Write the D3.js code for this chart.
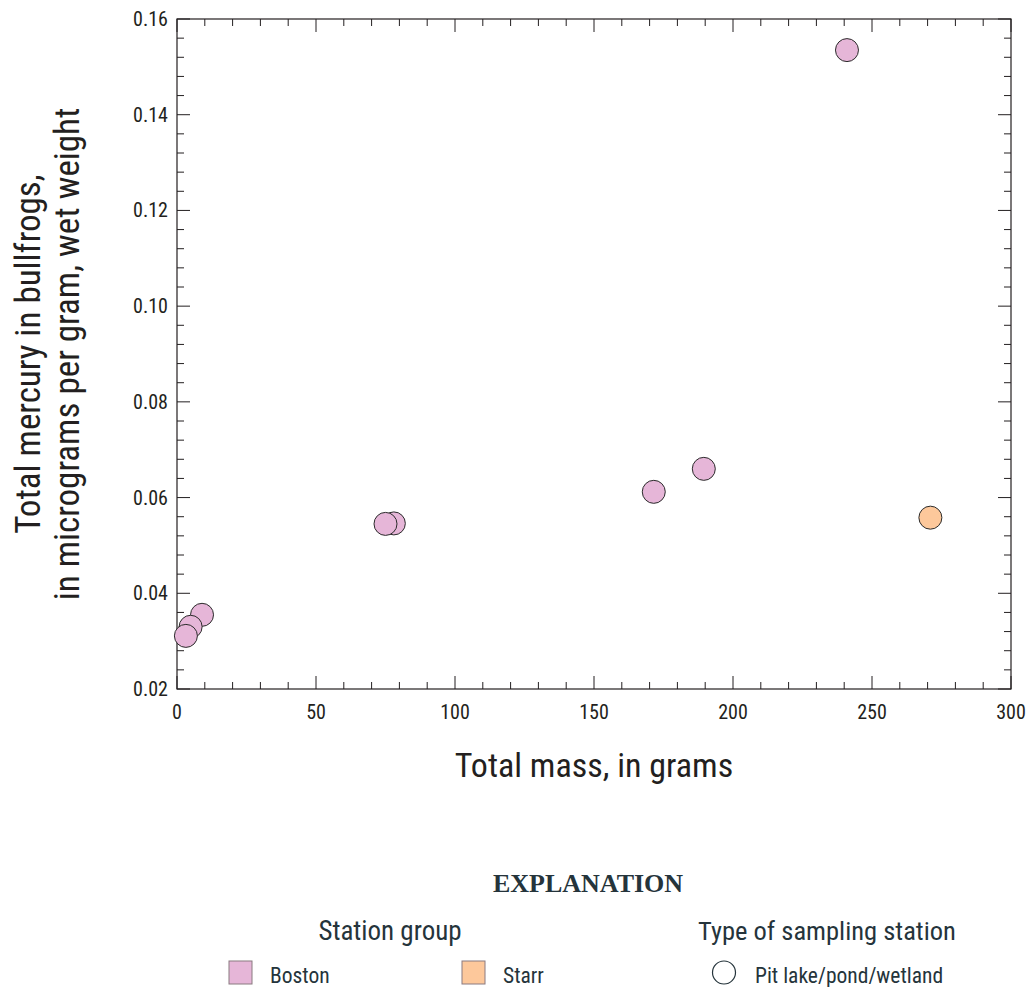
<!DOCTYPE html>
<meta charset="utf-8">
<script src="https://d3js.org/d3.v7.min.js"></script>
<style>
  body { margin: 0; background: #fff; }
  text { font-family: "Liberation Sans Narrow", "Roboto Condensed", Roboto, sans-serif; fill: #231f20; }
  .dot { stroke: #2b2b2b; stroke-width: 1; }
  .leg { fill: #25343b; }
</style>
<body>
<div id="chart"></div>
<script>
// Boston station group
var bostonMass = [241, 189.5, 171.5, 78, 75, 9, 4.9, 3.2];
var bostonHg   = [0.1535, 0.066, 0.0612, 0.0546, 0.0545, 0.0355, 0.033, 0.0311];
// Starr station group
var starrMass = [271];
var starrHg   = [0.0558];

var xTicks = [0, 50, 100, 150, 200, 250, 300];
var yTicks = [0.02, 0.04, 0.06, 0.08, 0.10, 0.12, 0.14, 0.16];

var colors = { Boston: "#e6b6d8", Starr: "#fdc89b" };

var W = 1029, H = 987;
var margin = { left: 177, right: 18, top: 19, bottom: 298 };

var svg = d3.select("#chart").append("svg")
    .attr("width", W)
    .attr("height", H);

var x = d3.scaleLinear().domain([0, 300]).range([margin.left, W - margin.right]);
var y = d3.scaleLinear().domain([0.02, 0.16]).range([H - margin.bottom, margin.top]);

// minor ticks
var xMinor = d3.range(0, 301, 10);
var yMinor = d3.range(0, 36).map(function(i) { return 0.02 + i * 0.004; });

var ticks = svg.append("g").attr("stroke", "#231f20").attr("stroke-width", 1);
xMinor.forEach(function(v) {
  var len = (v % 50 === 0) ? 13 : 7;
  ticks.append("line").attr("x1", x(v)).attr("x2", x(v)).attr("y1", y(0.02)).attr("y2", y(0.02) - len);
  ticks.append("line").attr("x1", x(v)).attr("x2", x(v)).attr("y1", y(0.16)).attr("y2", y(0.16) + len);
});
yMinor.forEach(function(v, i) {
  var len = (i % 5 === 0) ? 13 : 7;
  ticks.append("line").attr("y1", y(v)).attr("y2", y(v)).attr("x1", x(0)).attr("x2", x(0) + len);
  ticks.append("line").attr("y1", y(v)).attr("y2", y(v)).attr("x1", x(300)).attr("x2", x(300) - len);
});

// frame
svg.append("rect")
  .attr("x", x(0)).attr("y", y(0.16))
  .attr("width", x(300) - x(0)).attr("height", y(0.02) - y(0.16))
  .attr("fill", "none").attr("stroke", "#231f20").attr("stroke-width", 1.2);

// tick labels
svg.selectAll(".xl").data(xTicks).enter().append("text")
  .attr("x", function(d) { return x(d); })
  .attr("y", y(0.02) + 30)
  .attr("text-anchor", "middle")
  .style("font-size", "20px")
  .text(function(d) { return d; });

svg.selectAll(".yl").data(yTicks).enter().append("text")
  .attr("x", x(0) - 9)
  .attr("y", function(d) { return y(d) + 7; })
  .attr("text-anchor", "end")
  .style("font-size", "20px")
  .text(function(d) { return d.toFixed(2); });

// axis titles
svg.append("text")
  .attr("x", (x(0) + x(300)) / 2)
  .attr("y", 777)
  .attr("text-anchor", "middle")
  .style("font-size", "34px")
  .text("Total mass, in grams");

var yt = svg.append("text")
  .attr("transform", "translate(0," + ((y(0.02) + y(0.16)) / 2) + ") rotate(-90)")
  .attr("text-anchor", "middle")
  .style("font-size", "35px");
yt.append("tspan").attr("x", 0).attr("y", 40).text("Total mercury in bullfrogs,");
yt.append("tspan").attr("x", 0).attr("y", 79).text("in micrograms per gram, wet weight");

// points
var points = bostonMass.map(function(m, i) { return { mass: m, hg: bostonHg[i], group: "Boston" }; })
  .concat(starrMass.map(function(m, i) { return { mass: m, hg: starrHg[i], group: "Starr" }; }));

svg.selectAll(".dot").data(points).enter().append("circle")
  .attr("class", "dot")
  .attr("cx", function(d) { return x(d.mass); })
  .attr("cy", function(d) { return y(d.hg); })
  .attr("r", 11.5)
  .attr("fill", function(d) { return colors[d.group]; });

// legend
svg.append("text")
  .attr("class", "leg")
  .attr("x", 588).attr("y", 892)
  .attr("text-anchor", "middle")
  .style("font-family", "'Liberation Serif', 'DejaVu Serif', serif")
  .style("font-weight", "bold")
  .style("font-size", "26px")
  .text("EXPLANATION");

svg.append("text").attr("class", "leg").attr("x", 390).attr("y", 940).attr("text-anchor", "middle")
  .style("font-size", "27px").text("Station group");
svg.append("text").attr("class", "leg").attr("x", 827).attr("y", 940).attr("text-anchor", "middle")
  .style("font-size", "26.5px").text("Type of sampling station");

[["Boston", 229], ["Starr", 462]].forEach(function(g) {
  svg.append("rect").attr("x", g[1]).attr("y", 961).attr("width", 23).attr("height", 23)
    .attr("fill", colors[g[0]]).attr("stroke", "#8a7a80").attr("stroke-width", 1);
  svg.append("text").attr("class", "leg").attr("x", g[1] + 41).attr("y", 983)
    .style("font-size", "21.5px").text(g[0]);
});

svg.append("circle").attr("cx", 724).attr("cy", 972.5).attr("r", 11.5)
  .attr("fill", "#fff").attr("stroke", "#25343b").attr("stroke-width", 1.2);
svg.append("text").attr("class", "leg").attr("x", 755).attr("y", 983)
  .style("font-size", "21.5px").text("Pit lake/pond/wetland");
</script>
</body>
